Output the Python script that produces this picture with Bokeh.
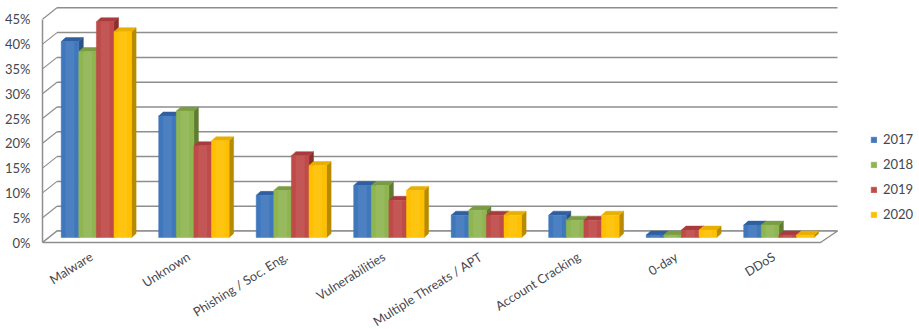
from bokeh.plotting import figure
from bokeh.core.properties import value
from bokeh.models import (Range1d, LinearAxis, FixedTicker, Legend, LegendItem,
                          NumeralTickFormatter, ColumnDataSource)
from bokeh.embed import file_html
from bokeh.resources import INLINE

categories = ["Malware", "Unknown", "Phishing / Soc. Eng.", "Vulnerabilities",
              "Multiple Threats / APT", "Account Cracking", "0-day", "DDoS"]
years = ["2017", "2018", "2019", "2020"]
v2017 = [40, 25, 9, 11, 5, 5, 1, 3]
v2018 = [38, 26, 10, 11, 6, 4, 1, 3]
v2019 = [44, 19, 17, 8, 5, 4, 2, 1]
v2020 = [42, 20, 15, 10, 5, 5, 2, 1]
y_ticks = [0, 5, 10, 15, 20, 25, 30, 35, 40, 45]

front = ["#3f77bd", "#8fb551", "#bf4b49", "#fec000"]
top = ["#2f5f9f", "#7a9c42", "#a83c3c", "#e8ae00"]
side = ["#2b5186", "#5f7d31", "#8a2f2e", "#b88a00"]
GRID = "#8e8e8e"
TEXT = "#44474f"
FONT = "Lato"

# Pixel sizes of the pseudo-3D box, turned into data units below.
FRAME_L, FLOOR_Y, WIDTH, HEIGHT = 42, 242, 919, 329
PITCH = 97.5            # px between category groups
BAR_W = 17.6            # px width of a bar
FIRST_LEFT = 60.7       # px left edge of the first group
WALL_PX_X, WALL_PX_Y = 14.5, 11.5
WALL_RIGHT_PX_X = 17
PX_PER_PCT = 4.96
BAR_FOOT_PX = 5         # px from the floor's front edge up to the bar feet
BAR_LIFT_PX = 2.5       # px the front faces are raised above the value scale
DEPTH_X, DEPTH_Y = 4.5, 4
LABEL_SHIFT_PX = 5      # slanted labels end just left of the group centre
LABEL_DROP_PX = 13      # px below the floor where the slanted labels end

group_left0 = FIRST_LEFT + 2 * BAR_W - FRAME_L - LABEL_SHIFT_PX
x_start = -group_left0 / PITCH
x_end = (WIDTH - FRAME_L - group_left0) / PITCH
bw = BAR_W / PITCH
dx = DEPTH_X / PITCH
wx = WALL_PX_X / PITCH
wy = WALL_PX_Y / PX_PER_PCT
dy = DEPTH_Y / PX_PER_PCT
foot = BAR_FOOT_PX / PX_PER_PCT
lift = BAR_LIFT_PX / PX_PER_PCT
shift = LABEL_SHIFT_PX / PITCH
floor_right = (820 - FRAME_L - group_left0) / PITCH
back_right = floor_right + WALL_RIGHT_PX_X / PITCH

p = figure(width=WIDTH, height=HEIGHT, output_backend="svg", toolbar_location=None,
           x_range=Range1d(x_start, x_end),
           y_range=Range1d(-(HEIGHT - FLOOR_Y) / PX_PER_PCT, FLOOR_Y / PX_PER_PCT),
           x_axis_type=None, y_axis_type=None,
           min_border_left=FRAME_L, min_border_right=0, min_border_top=0,
           min_border_bottom=0, outline_line_color=None,
           background_fill_color="white", border_fill_color="white")

# Back wall gridlines, slanted side-wall lines and the floor
p.segment(x0=[x_start + wx] * len(y_ticks), x1=[back_right] * len(y_ticks),
          y0=[t + wy for t in y_ticks], y1=[t + wy for t in y_ticks],
          line_color=GRID, line_width=1.5)
p.segment(x0=[x_start] * len(y_ticks), x1=[x_start + wx] * len(y_ticks),
          y0=y_ticks, y1=[t + wy for t in y_ticks], line_color=GRID, line_width=1.2)
p.patch(x=[x_start, floor_right, back_right, x_start + wx],
        y=[0, 0, wy, wy], fill_color="white", line_color=GRID, line_width=1.5)

# Bars: side face, top face and front face for each year
legend_items = []
for s, values in enumerate([v2017, v2018, v2019, v2020]):
    left = [i + shift + (s - 2) * bw for i in range(len(values))]
    right = [l + bw for l in left]
    tops = [v + lift for v in values]
    side_src = ColumnDataSource(dict(
        xs=[[r, r + dx, r + dx, r] for r in right],
        ys=[[foot, foot + dy, t + dy, t] for t in tops]))
    p.patches("xs", "ys", source=side_src, fill_color=side[s], line_color=side[s],
              line_width=0.5)
    top_src = ColumnDataSource(dict(
        xs=[[l, l + dx, r + dx, r] for l, r in zip(left, right)],
        ys=[[t, t + dy, t + dy, t] for t in tops]))
    p.patches("xs", "ys", source=top_src, fill_color=top[s], line_color=top[s],
              line_width=0.5)
    bars = p.quad(left=left, right=right, bottom=[foot] * len(values), top=tops,
                  fill_color=front[s], line_color=front[s], line_width=0.5)
    # Soft highlight down the middle of each front face
    p.quad(left=[l + bw * 0.25 for l in left], right=[r - bw * 0.25 for r in right],
           bottom=[foot] * len(values), top=tops,
           fill_color="white", fill_alpha=0.07, line_color=None)
    legend_items.append(LegendItem(label=years[s], renderers=[bars]))

# Value axis on the front edge of the side wall
y_axis = LinearAxis(ticker=FixedTicker(ticks=y_ticks),
                    formatter=NumeralTickFormatter(format="0"),
                    major_label_overrides={t: f"{t}%" for t in y_ticks},
                    bounds=(0, 45), axis_line_color=GRID, axis_line_width=1.5,
                    major_tick_line_color=None, minor_tick_line_color=None,
                    major_tick_in=0, major_tick_out=0, minor_tick_out=0,
                    major_label_standoff=12,
                    major_label_text_font=FONT, major_label_text_font_size="13px",
                    major_label_text_color=TEXT)
p.add_layout(y_axis, "left")

# Slanted category labels under the floor
p.text(x=list(range(len(categories))),
       y=[-LABEL_DROP_PX / PX_PER_PCT] * len(categories),
       text=categories, angle=0.56, text_align="right", text_baseline="middle",
       text_font=value(FONT), text_font_size="12.6px", text_color=TEXT)

legend = Legend(items=legend_items, location=(828, 107), border_line_color=None,
                background_fill_alpha=0, glyph_width=7, glyph_height=7, padding=0,
                margin=0, spacing=9, label_standoff=6, label_height=16,
                label_text_font=FONT, label_text_font_size="13px",
                label_text_color=TEXT)
p.add_layout(legend, "center")

open("out.html", "w").write(file_html(p, INLINE))
